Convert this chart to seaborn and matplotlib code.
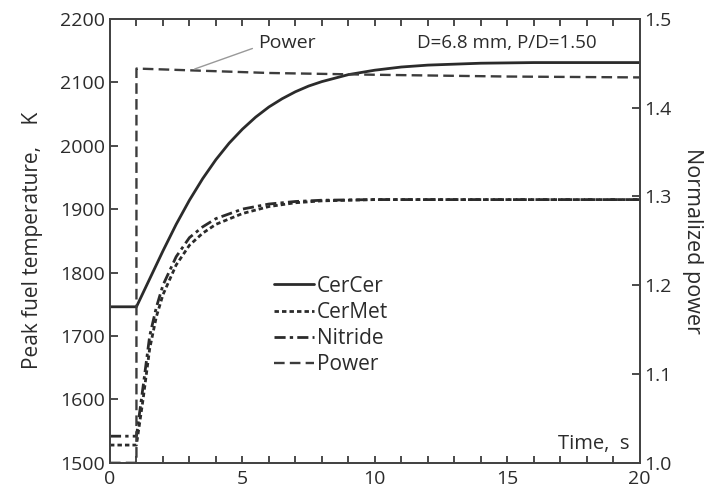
import numpy as np
import pandas as pd
import seaborn as sns
import matplotlib.pyplot as plt

# values
t_cercer = [0, 1, 1.5, 2, 2.5, 3, 3.5, 4, 4.5, 5, 5.5, 6, 6.5, 7, 7.5, 8, 9, 10, 11, 12, 14, 16, 20]
k_cercer = [1746, 1746, 1790, 1834, 1876, 1914, 1948, 1978, 2004, 2026, 2045, 2061, 2074, 2085,
            2094, 2101, 2112, 2119, 2124, 2127, 2130, 2131, 2131]

t_fuel = [0, 1, 1.25, 1.5, 1.75, 2, 2.5, 3, 3.5, 4, 5, 6, 7, 8, 10, 14, 20]
k_cermet = [1528, 1528, 1600, 1680, 1730, 1765, 1812, 1843, 1862, 1876, 1893, 1904, 1910, 1913,
            1915, 1915, 1915]
k_nitride = [1542, 1542, 1620, 1700, 1745, 1780, 1825, 1855, 1872, 1885, 1900, 1908, 1912, 1914,
             1915, 1915, 1915]

t_power = [0, 1, 1, 3, 6, 10, 15, 20]
p_power = [1.0, 1.0, 1.444, 1.442, 1.439, 1.437, 1.435, 1.434]

sns.set_style("ticks")
plt.rcParams['font.family'] = ['Open Sans', 'DejaVu Sans']
plt.rcParams['font.size'] = 12

ink = '#2b2b2b'
fig, ax = plt.subplots(figsize=(7.14, 4.95), dpi=100)
fig.subplots_adjust(left=0.154, right=0.896, bottom=0.065, top=0.962)
ax2 = ax.twinx()

sns.lineplot(x=t_cercer, y=k_cercer, ax=ax, color=ink, lw=2.0, label='CerCer',
             estimator=None, sort=False, legend=False)
sns.lineplot(x=t_fuel, y=k_cermet, ax=ax, color=ink, lw=2.0, label='CerMet',
             estimator=None, sort=False, legend=False)
sns.lineplot(x=t_fuel, y=k_nitride, ax=ax, color=ink, lw=2.0, label='Nitride',
             estimator=None, sort=False, legend=False)
sns.lineplot(x=t_power, y=p_power, ax=ax2, color='#3c3c3c', lw=1.7, label='Power',
             estimator=None, sort=False, legend=False)
ax.lines[1].set_linestyle((0, (1.6, 1.1)))
ax.lines[2].set_linestyle((0, (4, 1.5, 1.2, 1.5)))
ax2.lines[0].set_linestyle((0, (4.5, 2.2)))

ax.set_xlim(0, 20)
ax.set_ylim(1500, 2200)
ax2.set_ylim(1.0, 1.5)
ax.set_xticks([0, 5, 10, 15, 20])
ax.set_xticks(np.arange(0, 21, 1), minor=True)
ax.set_yticks(np.arange(1500, 2201, 100))
ax2.set_yticks([1.0, 1.1, 1.2, 1.3, 1.4, 1.5])
ax2.set_yticklabels(['1.0', '1.1', '1.2', '1.3', '1.4', '1.5'])

ax.tick_params(axis='x', which='both', direction='in', top=True, length=5, width=1.2,
               colors=ink, labelsize=14, pad=5)
ax.tick_params(axis='y', direction='in', length=6, width=1.2, colors=ink, labelsize=14)
ax2.tick_params(axis='y', direction='in', length=6, width=1.2, colors=ink, labelsize=14)
for a in (ax, ax2):
    for s in a.spines.values():
        s.set_visible(True)
        s.set_linewidth(1.4)
        s.set_color('#444444')

ax.set_xlabel('')
ax.set_ylabel('Peak fuel temperature,    K', color=ink, fontsize=15, labelpad=12)
ax2.set_ylabel('Normalized power', color=ink, fontsize=15.5, rotation=270, labelpad=22)

ax.text(19.6, 1530, 'Time,  s', ha='right', va='center', color=ink, fontsize=14.5)
ax2.text(11.6, 1.473, 'D=6.8 mm, P/D=1.50', ha='left', va='center', color=ink, fontsize=13.5)
ax2.annotate('Power', xy=(3.2, 1.4435), xytext=(5.6, 1.473), va='center', color=ink, fontsize=14,
             arrowprops=dict(arrowstyle='-', color='#999999', lw=1.0, relpos=(0, 0.3),
                             shrinkA=2, shrinkB=0))

handles = ax.lines[:3] + ax2.lines[:1]
labels = ['CerCer', 'CerMet', 'Nitride', 'Power']
ax.legend(handles, labels, loc='upper left', bbox_to_anchor=(0.29, 0.445), frameon=False,
          fontsize=15, handlelength=1.9, handletextpad=0.15, labelspacing=0.25, borderpad=0,
          labelcolor=ink)

fig.savefig('out.png', dpi=100)
